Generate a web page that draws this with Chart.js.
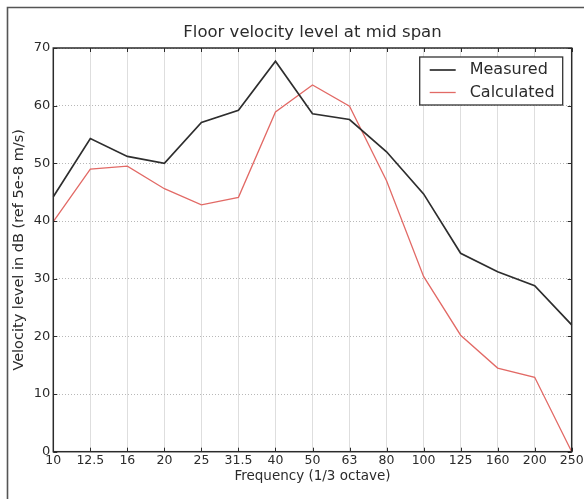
<!DOCTYPE html>
<html>
<head>
<meta charset="utf-8">
<script src="https://cdn.jsdelivr.net/npm/chart.js@4.4.1/dist/chart.umd.min.js"></script>
<style>
  html, body { margin: 0; padding: 0; background: #ffffff; }
  #wrap { position: relative; width: 584px; height: 499px; }
</style>
</head>
<body>
<div id="wrap"><canvas id="chart" width="584" height="499"></canvas></div>
<script>
// 1/3-octave band centre frequencies (Hz)
const frequencies = ['10', '12.5', '16', '20', '25', '31.5', '40', '50', '63', '80', '100', '125', '160', '200', '250'];
// Floor velocity level, dB re 5e-8 m/s
const measured   = [44.2, 54.3, 51.2, 50.0, 57.1, 59.2, 67.7, 58.6, 57.6, 52.0, 44.7, 34.4, 31.2, 28.8, 22.0];
const calculated = [39.9, 49.0, 49.5, 45.6, 42.8, 44.1, 58.9, 63.6, 59.9, 47.0, 30.4, 20.2, 14.5, 12.9, 0.0];
const yTicks = [0, 10, 20, 30, 40, 50, 60, 70];

const chartTitle = 'Floor velocity level at mid span';
const xTitle = 'Frequency (1/3 octave)';
const yTitle = 'Velocity level in dB (ref 5e-8 m/s)';

const FONT = '"DejaVu Sans", Arial, sans-serif';
const INK = '#2b2b2b';

// Outer frame, axes box, inward tick marks, title and boxed legend
const decorations = {
  id: 'decorations',
  beforeDraw(chart) {
    const ctx = chart.ctx;
    ctx.save();
    ctx.fillStyle = '#ffffff';
    ctx.fillRect(0, 0, chart.width, chart.height);
    ctx.strokeStyle = '#555555';
    ctx.lineWidth = 1.6;
    ctx.beginPath();
    ctx.moveTo(7.5, chart.height);
    ctx.lineTo(7.5, 7.5);
    ctx.lineTo(chart.width, 7.5);
    ctx.stroke();
    ctx.restore();
  },
  afterDatasetsDraw(chart) {
    const ctx = chart.ctx;
    const a = chart.chartArea;
    const xs = chart.scales.x, ys = chart.scales.y;
    ctx.save();
    // inward ticks on all four sides
    ctx.strokeStyle = INK;
    ctx.lineWidth = 1;
    ctx.beginPath();
    const tl = 4;
    for (let i = 0; i < frequencies.length; i++) {
      const px = Math.round(xs.getPixelForValue(i)) + 0.5;
      ctx.moveTo(px, a.bottom); ctx.lineTo(px, a.bottom - tl);
      ctx.moveTo(px, a.top); ctx.lineTo(px, a.top + tl);
    }
    yTicks.forEach(v => {
      const py = Math.round(ys.getPixelForValue(v)) + 0.5;
      ctx.moveTo(a.left, py); ctx.lineTo(a.left + tl, py);
      ctx.moveTo(a.right, py); ctx.lineTo(a.right - tl, py);
    });
    ctx.stroke();
    // axes box
    ctx.lineWidth = 1.5;
    ctx.strokeRect(a.left, a.top, a.right - a.left, a.bottom - a.top);

    // title
    ctx.fillStyle = INK;
    ctx.font = '16.5px ' + FONT;
    ctx.textAlign = 'center';
    ctx.textBaseline = 'middle';
    ctx.fillText(chartTitle, (a.left + a.right) / 2, 33);

    // legend
    const bw = 143, bh = 48;
    const bx = a.right - 9 - bw, by = a.top + 9;
    ctx.fillStyle = '#ffffff';
    ctx.fillRect(bx, by, bw, bh);
    ctx.strokeStyle = '#333333';
    ctx.lineWidth = 1.3;
    ctx.strokeRect(bx, by, bw, bh);
    ctx.font = '16px ' + FONT;
    ctx.textAlign = 'left';
    chart.data.datasets.forEach((ds, i) => {
      const cy = by + 13 + i * 22.5;
      ctx.strokeStyle = ds.borderColor;
      ctx.lineWidth = ds.borderWidth;
      ctx.beginPath();
      ctx.moveTo(bx + 10, cy);
      ctx.lineTo(bx + 36, cy);
      ctx.stroke();
      ctx.fillStyle = INK;
      ctx.fillText(ds.label, bx + 50, cy);
    });
    ctx.restore();
  }
};

new Chart(document.getElementById('chart'), {
  type: 'line',
  data: {
    labels: frequencies,
    datasets: [
      { label: 'Measured', data: measured, borderColor: '#2e2e2e', borderWidth: 1.7,
        pointRadius: 0, tension: 0, fill: false },
      { label: 'Calculated', data: calculated, borderColor: '#e26a66', borderWidth: 1.3,
        pointRadius: 0, tension: 0, fill: false }
    ]
  },
  options: {
    responsive: false,
    animation: false,
    layout: { padding: { top: 48, right: 12.3, bottom: 0, left: 0 } },
    plugins: {
      legend: { display: false },
      title: { display: false },
      tooltip: { enabled: false }
    },
    scales: {
      x: {
        type: 'category',
        offset: false,
        grid: { color: '#dedede', lineWidth: 1, drawTicks: false },
        border: { display: false },
        ticks: { color: INK, font: { family: FONT, size: 12.5 }, padding: 2, maxRotation: 0, autoSkip: false },
        title: { display: true, text: xTitle, color: INK, font: { family: FONT, size: 13.5 },
                 padding: { top: 0, bottom: 14.4 } },
        afterFit(scale) {
          scale.height = 47.3;
          scale.paddingLeft = 0;
          scale.paddingRight = 0;
        }
      },
      y: {
        min: 0, max: 70,
        afterBuildTicks(scale) { scale.ticks = yTicks.map(v => ({ value: v })); },
        grid: { color: '#b8b8b8', lineWidth: 1, drawTicks: false },
        border: { display: false, dash: [1, 2] },
        ticks: { color: INK, font: { family: FONT, size: 13 }, padding: 3 },
        title: { display: true, text: yTitle, color: INK, font: { family: FONT, size: 14.5 },
                 padding: { top: 11, bottom: 0 } },
        afterFit(scale) {
          scale.width = 53.3;
          scale.paddingTop = 0;
          scale.paddingBottom = 0;
        }
      }
    }
  },
  plugins: [decorations]
});
</script>
</body>
</html>
